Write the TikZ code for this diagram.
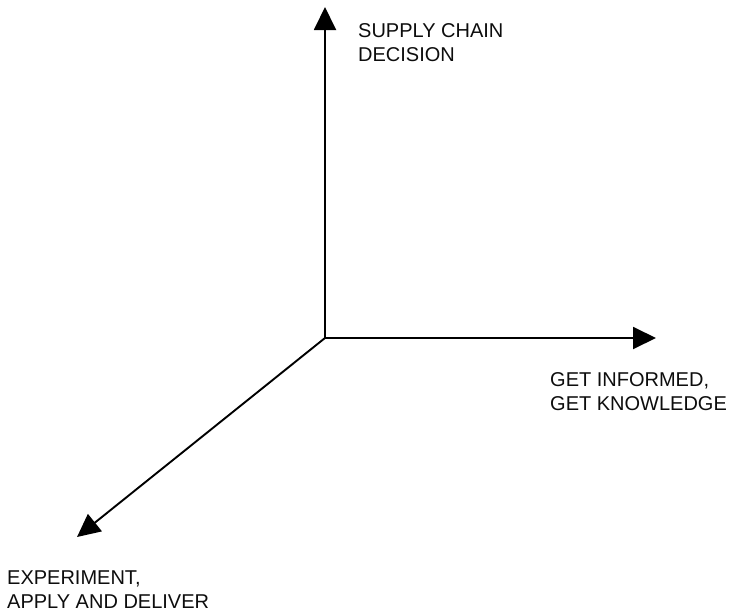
\documentclass[tikz,border=0pt]{standalone}
\usepackage{fontspec}
\setmainfont{Liberation Sans}
\usetikzlibrary{arrows.meta}
\begin{document}
\begin{tikzpicture}[x=1pt,y=-1pt,
  axis/.style={line width=1.9pt, -{Triangle[length=23pt,width=22pt]}},
  axislabel/.style={inner sep=0pt, align=left, anchor=north west,
    font=\fontsize{20}{24}\selectfont, text=black!95}]
  \useasboundingbox (0,0) rectangle (734,613);
  % three axes from a common origin
  \coordinate (O) at (325,338);
  \coordinate (up) at (325,7);
  \coordinate (right) at (656,338);
  \coordinate (down) at (77,537);
  \draw[axis] (O) -- (up);
  \draw[axis] (O) -- (right);
  \draw[axis] (O) -- (down);
  % axis captions
  \node[axislabel] (decision) at (358,23) {SUPPLY CHAIN\\DECISION};
  \node[axislabel] (inform) at (550,372) {GET INFORMED,\\GET KNOWLEDGE};
  \node[axislabel] (apply) at (7,571) {EXPERIMENT,\\APPLY AND DELIVER};
\end{tikzpicture}
\end{document}
